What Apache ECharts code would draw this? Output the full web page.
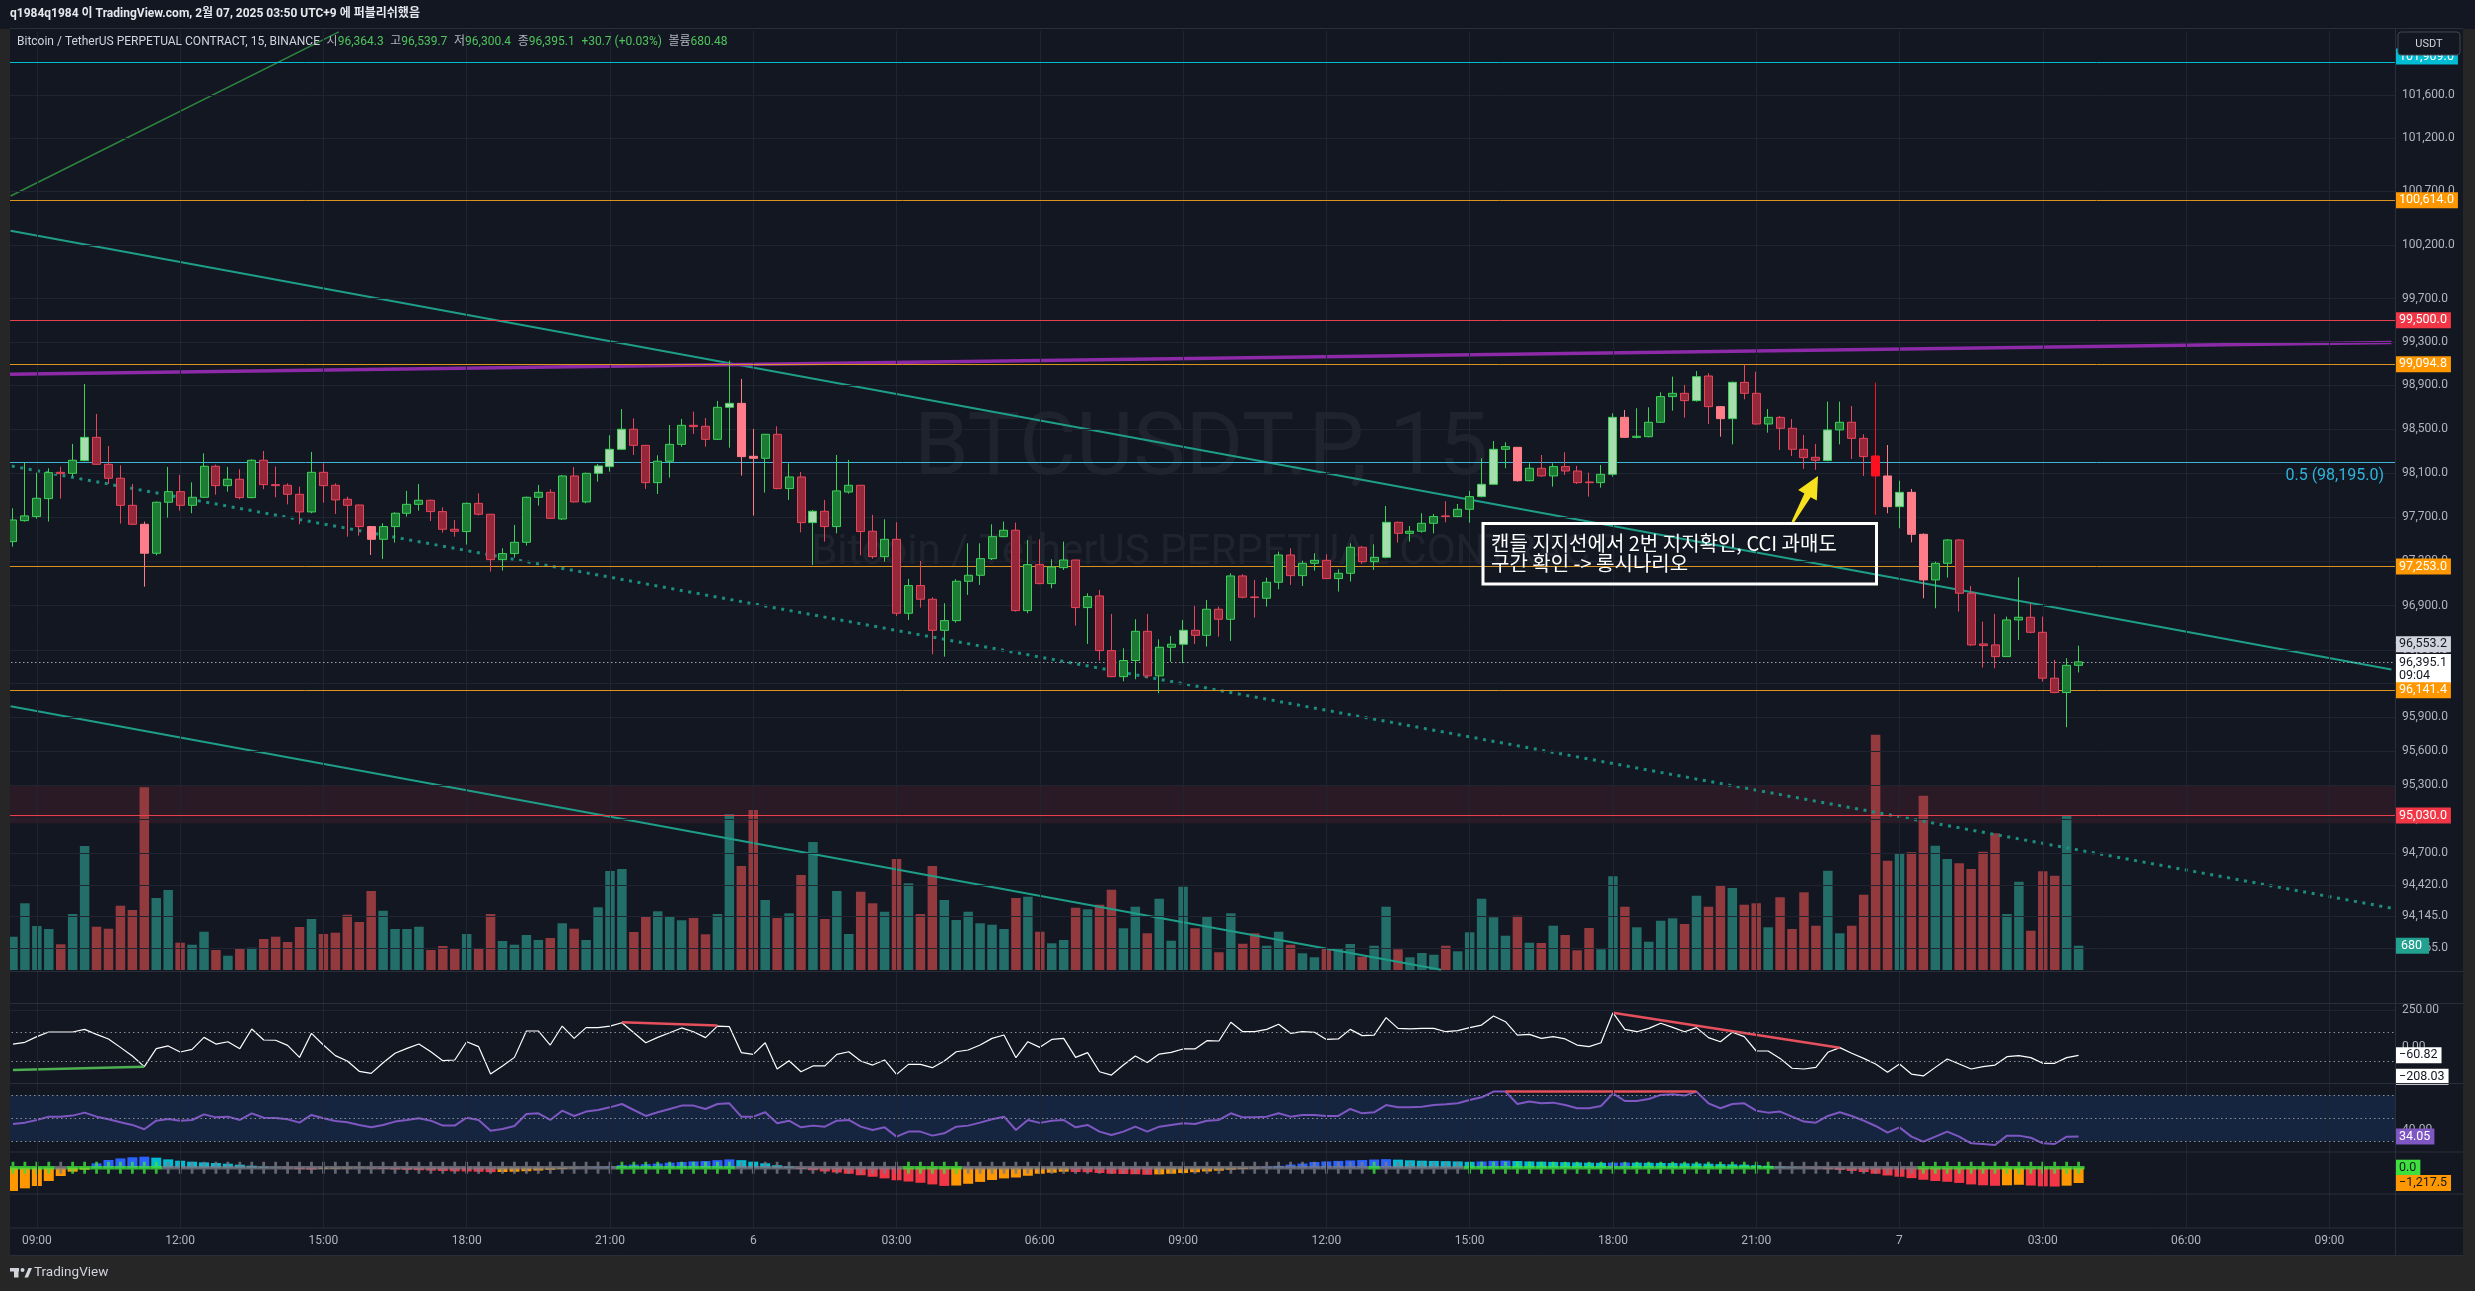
<!DOCTYPE html>
<html>
<head>
<meta charset="utf-8">
<title>BTCUSDT.P 15</title>
<script src="https://cdn.jsdelivr.net/npm/echarts@6.0.0/dist/echarts.min.js"></script>
<style>
html,body{margin:0;padding:0;background:#131722;overflow:hidden;}
#chart{width:2475px;height:1291px;}
</style>
</head>
<body>
<div id="chart"></div>
<script>
// ================= DATA =================
const slotCount = 200;               // 15-min slots on the time axis (incl. empty future space)
const startUTC = Date.UTC(2025, 1, 5, 8, 30); // first slot: 2025-02-05 08:30 (UTC+9 local shown)

// candles: [open, close, low, high]
const ohlc = [
[97477,97673,97432,97779],[97667,97710,97658,98194],[97704,97870,97685,98103],[97867,98103,97658,98143],[98106,98094,97867,98158],
[98097,98216,98067,98365],[98213,98425,98206,98914],[98425,98179,98173,98639],[98179,98052,98000,98346],[98052,97806,97640,98170],
[97806,97634,97628,98000],[97634,97372,97071,97658],[97372,97834,97353,97840],[97834,97930,97694,98155],[97930,97806,97758,98082],
[97806,97879,97734,98015],[97879,98161,97873,98279],[98161,97985,97903,98176],[97985,98043,97930,98155],[98043,97876,97861,98134],
[97876,98216,97870,98225],[98216,97994,97952,98301],[97994,97985,97879,98158],[97988,97906,97815,98006],[97906,97746,97634,97976],
[97746,98106,97734,98292],[98106,97985,97831,98188],[97988,97855,97728,98006],[97861,97806,97522,97885],[97809,97613,97531,97812],
[97613,97498,97356,97619],[97498,97613,97320,97643],[97613,97734,97468,97743],[97734,97815,97704,97937],[97815,97852,97758,98000],
[97852,97749,97664,97858],[97749,97589,97558,97788],[97589,97571,97522,97673],[97568,97824,97450,97831],[97824,97725,97713,97915],
[97725,97314,97206,97728],[97314,97369,97215,97417],[97369,97471,97332,97628],[97471,97879,97441,97885],[97879,97924,97803,97991],
[97924,97688,97682,97952],[97682,98073,97673,98082],[98073,97837,97831,98155],[97837,98097,97824,98103],[98097,98164,98021,98182],
[98158,98316,98112,98444],[98316,98499,98310,98684],[98499,98352,98264,98599],[98352,98012,97955,98355],[98012,98207,97909,98261],
[98207,98361,98058,98538],[98361,98535,98340,98593],[98535,98523,98456,98660],[98526,98407,98340,98602],[98407,98700,98401,98758],
[98700,98736,98331,99128],[98736,98249,98076,98960],[98252,98234,97713,98502],[98234,98453,97921,98456],[98453,97958,97952,98526],
[97958,98064,97855,98188],[98064,97649,97561,98109],[97649,97752,97266,97764],[97752,97613,97477,97855],[97613,97937,97552,98264],
[97927,97988,97912,98219],[97988,97568,97353,97991],[97571,97341,97323,97719],[97341,97498,97296,97679],[97498,96831,96807,97652],
[96831,97080,96771,97140],[97080,96957,96882,97302],[96957,96678,96463,96975],[96678,96765,96442,96921],[96765,97119,96747,97137],
[97119,97173,96996,97462],[97173,97323,97086,97462],[97323,97522,97311,97634],[97522,97580,97516,97658],[97580,96855,96846,97649],
[96855,97269,96831,97492],[97269,97098,97092,97498],[97098,97248,97056,97317],[97242,97311,97221,97477],[97311,96882,96720,97314],
[96882,96981,96556,97011],[96987,96496,96407,97041],[96496,96263,96258,96825],[96263,96407,96222,96517],[96407,96669,96240,96777],
[96669,96270,96249,96825],[96270,96526,96115,96597],[96526,96553,96395,96627],[96553,96678,96383,96771],[96678,96633,96556,96897],
[96633,96867,96532,96951],[96867,96777,96621,96891],[96777,97167,96583,97191],[97167,96975,96966,97182],[96978,96972,96792,97131],
[96966,97110,96891,97152],[97110,97356,97047,97387],[97356,97170,97086,97417],[97170,97281,97077,97305],[97281,97308,97215,97372],
[97308,97143,97140,97363],[97143,97191,97026,97227],[97191,97426,97116,97462],[97426,97296,97275,97438],[97296,97335,97221,97453],
[97335,97652,97326,97800],[97652,97552,97468,97658],[97552,97571,97477,97619],[97571,97643,97558,97734],[97643,97704,97552,97728],
[97710,97704,97652,97843],[97704,97770,97698,97818],[97770,97885,97649,97937],[97885,97997,97879,98234],[97997,98316,97991,98392],
[98316,98340,98143,98380],[98334,98030,98021,98337],[98030,98143,98024,98188],[98143,98073,98067,98264],[98073,98158,97976,98188],
[98158,98118,98082,98289],[98118,98012,98000,98164],[98018,98012,97885,98103],[98012,98088,97967,98173],[98088,98608,98067,98645],
[98608,98425,98419,98675],[98425,98435,98416,98691],[98431,98563,98425,98700],[98563,98798,98557,98837],[98798,98828,98669,98981],
[98828,98761,98605,98905],[98761,98981,98752,99033],[98987,98706,98547,99012],[98706,98596,98431,98712],[98596,98929,98361,98935],
[98929,98828,98773,99095],[98828,98547,98541,99027],[98547,98608,98468,98684],[98608,98508,98310,98621],[98508,98316,98255,98593],
[98316,98240,98137,98447],[98243,98216,98128,98365],[98213,98493,98207,98752],[98493,98563,98361,98752],[98563,98416,98228,98712],
[98416,98249,98073,98453],[98255,98073,97719,98926],[98073,97794,97734,98355],[97794,97924,97598,98030],[97924,97543,97471,97955],
[97543,97131,96966,97552],[97131,97281,96876,97296],[97281,97492,97152,97501],[97492,97011,96846,97501],[97011,96547,96538,97077],
[96556,96541,96344,96756],[96547,96442,96338,96825],[96442,96771,96440,96801],[96771,96795,96592,97155],[96795,96660,96651,96921],
[96660,96249,96219,96801],[96249,96121,96115,96413],[96121,96364,95812,96428],[96364.3,96395.1,96300.4,96539.7]
];

const volume = [
932,1868,1232,1148,720,1568,3472,1212,1156,1800,
1680,5116,2016,2240,764,708,1072,560,400,596,
624,868,932,784,1204,1428,1008,1044,1548,1344,
2212,1660,1148,1148,1212,560,672,616,1008,596,
1568,812,708,980,840,896,1308,1156,840,1756,
2772,2828,1064,1492,1644,1512,1392,1456,1000,1568,
4360,2912,4480,1960,1456,1588,2660,3584,1428,2212,
1008,2192,1868,1632,3108,2428,1568,2912,1960,1400,
1632,1308,1268,1148,2016,2052,1072,748,840,1744,
1700,1828,2248,1168,1772,1028,1996,820,2332,1168,
1504,496,1588,736,1028,680,1072,708,468,356,
616,616,728,372,680,1772,580,356,476,428,
680,524,1056,1996,1476,960,1520,764,756,1240,
980,552,1176,580,2624,1772,1196,792,1380,1448,
1288,2080,1772,2360,2296,1828,1868,1196,2036,1148,
2176,1240,2780,1028,1240,2108,6588,3060,3268,3296,
4880,3480,3108,2988,2828,3312,3828,1568,2472,1100,
2764,2640,4340,680.48
];

const cci = [
17,29,68,100,100,100,118,84,52,-6,
-66,-139,-15,4,-38,-20,63,17,33,-15,
121,45,43,8,-75,91,10,-63,-100,-171,
-185,-112,-47,-13,17,-36,-98,-93,33,-1,
-190,-134,-75,107,107,10,141,56,130,130,
141,164,95,26,63,95,128,102,61,141,
137,-42,-54,26,-155,-98,-174,-134,-134,-54,
-36,-100,-128,-93,-192,-123,-123,-146,-100,-36,
-24,10,56,79,-77,33,-6,49,56,-75,
-42,-174,-197,-128,-65,-111,-52,-40,-17,-17,
40,38,167,102,102,118,153,91,102,98,
49,52,118,75,79,199,125,121,125,125,
102,109,130,148,210,171,79,84,56,68,
52,10,-1,26,233,118,102,125,160,132,
102,130,61,33,98,68,-31,-31,-82,-150,
-155,-144,-40,-8,-47,-82,-121,-178,-121,-190,
-203,-144,-86,-121,-155,-139,-128,-70,-63,-77,
-116,-116,-77,-60.82
];
const cciSecondValue = -208.03;

const rsi = [
45.0,46.2,48.5,51.4,51.4,52.3,54.9,51.4,49.1,46.5,
44.2,40.4,47.9,49.4,47.9,48.5,53.4,50.8,51.4,48.5,
54.3,50.5,50.3,49.1,46.2,52.9,50.0,47.6,46.5,44.2,
42.1,44.2,47.1,48.5,50.0,47.9,43.6,43.6,50.5,48.5,
39.2,40.7,43.3,53.7,54.3,48.5,56.6,52.0,55.8,57.2,
59.5,62.4,57.2,52.0,55.2,58.1,61.0,61.0,58.1,62.4,
63.0,51.4,51.4,55.2,45.6,47.9,42.1,43.6,42.7,47.9,
48.5,42.7,39.8,42.1,34.0,38.4,38.4,34.9,36.9,42.7,
43.6,46.2,49.1,51.4,39.8,48.5,46.0,47.9,48.5,42.1,
44.2,38.4,35.5,38.4,42.7,38.4,42.7,44.2,45.6,45.0,
47.9,48.5,54.3,50.8,50.8,51.4,54.3,51.4,52.9,52.9,
52.0,52.0,58.1,54.3,55.2,61.5,59.5,59.5,60.1,61.5,
62.1,63.0,65.9,68.2,73.2,73.2,62.4,64.5,63.0,63.6,
61.5,58.7,58.7,60.7,71.7,65.0,65.0,66.8,70.3,70.8,
69.7,73.2,63.0,58.7,62.4,63.0,56.6,54.9,55.8,51.4,
47.1,46.2,52.0,55.2,52.0,47.9,43.3,37.5,42.1,34.0,
29.7,34.0,38.4,34.0,28.2,27.6,26.8,34.9,34.9,33.1,
28.2,27.6,34.0,34.05
];

const sqzMom = [
-1855,-1642,-1458,-1060,-660,-318,-160,345,613,742,
828,875,800,663,557,477,424,371,318,239,
159,80,30,-50,-120,-150,-100,-80,-60,-30,
-60,-100,-140,-170,-200,-230,-260,-290,-300,-320,
-350,-340,-320,-280,-230,-170,-110,-50,10,50,
100,200,250,280,330,400,450,500,530,600,
660,600,480,350,200,100,-100,-200,-300,-380,
-480,-600,-720,-850,-1000,-1100,-1200,-1330,-1450,-1420,
-1280,-1130,-980,-850,-780,-640,-480,-400,-320,-340,
-360,-420,-480,-500,-520,-560,-530,-480,-420,-360,
-300,-240,-160,-110,-60,60,150,250,330,450,
500,540,580,610,650,680,640,590,560,540,
520,500,470,500,540,560,530,500,480,460,
440,420,400,390,400,410,400,390,380,370,
350,340,320,290,270,240,200,150,100,40,
-20,-60,-120,-180,-260,-340,-480,-620,-720,-830,
-960,-1060,-1120,-1210,-1330,-1400,-1440,-1400,-1360,-1420,
-1480,-1500,-1430,-1217.5
];
const sqzOn = [
1,1,1,1,0,1,1,1,1,1, 1,1,1,0,0,0,0,0,0,0, 0,0,0,0,0,0,0,0,0,0, 0,0,0,0,0,0,0,0,0,0,
0,0,0,0,0,0,0,0,0,0, 0,1,1,1,1,1,1,1,1,1, 1,0,0,0,0,0,0,0,0,0, 0,0,0,0,0,1,1,1,1,1,
0,0,0,0,0,0,0,0,0,0, 0,0,0,0,0,0,0,0,0,0, 0,0,0,0,0,0,0,0,0,0, 0,0,0,0,1,0,0,0,0,0,
0,0,1,1,1,1,1,1,1,1, 1,1,1,1,1,1,1,1,1,1, 1,1,1,1,1,1,1,1,0,0, 0,0,0,0,0,0,0,0,0,0,
1,1,1,1,1,1,1,1,1,1, 1,1,1,1
];

// price-scale tick labels and drawn levels
const priceTicks = [101600,101200,100700,100200,99700,99300,98900,98500,98100,97700,97300,96900,96500,96200,95900,95600,95300,95000,94700,94420,94145,93865];
const cyanLevels = [101909.0];
const orangeLevels = [100614.0, 99094.8, 97253.0, 96141.4];
const redLevels = [99500.0, 95030.0];
const fibLevel = 98195.0;
const fibName = '0.5';
const redZone = [95300, 94962];
const markerPrice = 96553.2;
const countdown = '09:04';
const lastChange = ['+30.7', '+0.03%'];

// drawn trend lines: [slot index, price]
const trendGreen  = [[-0.2, 100655], [27.3, 102199]];
const trendUpper  = [[-0.2, 100330], [199.2, 96327]];
const trendLower  = [[-0.2, 95998], [119.6, 93680]];
const trendDotted = [[-0.1, 98163], [199.2, 94217]];
const trendPurple = [[-0.3, 99003], [199.2, 99296]];
// indicator divergence lines: [slot index, value]
const cciDivGreen = [[0, -162], [11, -139]];
const cciDivRed1  = [[51, 167], [59, 144]];
const cciDivRed2  = [[134, 233], [153, -8]];
const rsiDivRed   = [[124.9, 73.2], [141, 73.2]];

// ================= BUILD =================
const pad2 = n => String(n).padStart(2, '0');
const categories = [];
for (let k = 0; k < slotCount; k++) {
  const d = new Date(startUTC + k * 900000);
  categories.push(pad2(d.getUTCMonth() + 1) + '-' + pad2(d.getUTCDate()) + ' ' + pad2(d.getUTCHours()) + ':' + pad2(d.getUTCMinutes()));
}
function fmt(v, dec) {
  const s = Math.abs(v).toLocaleString('en-US', {minimumFractionDigits: dec, maximumFractionDigits: dec});
  return (v < 0 ? '\u2212' : '') + s;
}
const isMajor = c => { const h = +c.slice(6, 8), m = +c.slice(9, 11); return m === 0 && h % 3 === 0; };
const majorIdx = categories.map((c, i) => isMajor(c) ? i : -1).filter(i => i >= 0);

const AX = 'Roboto, "Liberation Sans", Arial, sans-serif';
const KR = 'Roboto, "Noto Sans CJK KR", sans-serif';
const GRID_C = '#1f2430';
const last = ohlc[ohlc.length - 1];
const lastPrice = last[1];

const C = {
  upFill: '#1d7a35', upBorder: '#3fd05a', upPale: '#a6dcae',
  dnFill: '#93283a', dnBorder: '#e8455a', dnPale: '#ff7d88', dnHot: '#ff1020'
};
// style per candle: direction from open/close, intensity from volume vs. recent average
const candleData = ohlc.map((d, i) => {
  let s = 0, c = 0;
  for (let j = Math.max(0, i - 20); j < i; j++) { s += volume[j]; c++; }
  const ratio = c >= 3 ? volume[i] / (s / c) : 1;
  let fill, border;
  if (d[1] >= d[0]) { fill = ratio > 1.5 ? C.upPale : C.upFill; border = C.upBorder; }
  else if (ratio > 3.6) { fill = C.dnHot; border = C.dnHot; }
  else if (ratio > 1.5) { fill = C.dnPale; border = C.dnPale; }
  else { fill = C.dnFill; border = C.dnBorder; }
  return {value: d, itemStyle: {color: fill, color0: fill, borderColor: border, borderColor0: border}};
});
const volData = volume.map((v, i) => ({value: v, itemStyle: {color: ohlc[i][1] >= ohlc[i][0] ? '#236e69' : '#933a3f'}}));
const sqzData = sqzMom.map((v, i) => {
  const p = i > 0 ? sqzMom[i - 1] : -Infinity;
  let col;
  if (v >= 0) col = v >= p ? '#2962ff' : '#00bcd4';
  else col = v <= p ? '#f23645' : '#ff9800';
  return {value: v, itemStyle: {color: col}};
});
const crossData = sqzOn.map((s, i) => ({value: [i, 0], itemStyle: {color: s ? '#3ee03e' : '#787b86'}}));
const nulls = categories.map(() => null);

const tickLabel = (txt) => ({show: true, position: 'end', distance: 7, formatter: txt, color: '#b2b5be', fontSize: 12, fontFamily: AX});
const boxLabel = (txt, bg, fg, extra) => Object.assign({show: true, position: 'end', distance: 0, formatter: txt,
  backgroundColor: bg, color: fg, padding: [2, 4, 2, 4], fontSize: 12.5, lineHeight: 12, fontFamily: AX}, extra || {});
const hidden = {color: 'rgba(0,0,0,0)', width: 1, type: 'solid'};
const ML = (data) => ({symbol: ['none', 'none'], silent: true, animation: false, label: {show: false}, data: data});

const catAxis = (g, extra) => Object.assign({type: 'category', gridIndex: g, data: categories, boundaryGap: true,
  axisLine: {show: false}, axisTick: {show: false}, axisLabel: {show: false}, splitLine: {show: false}}, extra || {});
const valAxis = (g, min, max, extra) => Object.assign({type: 'value', gridIndex: g, min: min, max: max, show: false,
  axisLine: {show: false}, axisTick: {show: false}, axisLabel: {show: false}, splitLine: {show: false}}, extra || {});

const LEFT = 7, RIGHT = 80;
const option = {
  backgroundColor: '#131722',
  animation: false,
  textStyle: {fontFamily: AX},
  grid: [
    {left: LEFT, right: RIGHT, top: 31, height: 941},
    {left: LEFT, right: RIGHT, top: 700, height: 270},
    {left: LEFT, right: RIGHT, top: 1004, height: 80},
    {left: LEFT, right: RIGHT, top: 1084, height: 68.3},
    {left: LEFT, right: RIGHT, top: 1152.3, height: 41.7},
    {left: LEFT, right: RIGHT, top: 31, height: 1197}
  ],
  xAxis: [
    catAxis(0), catAxis(1), catAxis(2), catAxis(3), catAxis(4),
    catAxis(5, {position: 'bottom', axisLabel: {show: true, color: '#b2b5be', fontSize: 12, fontFamily: AX, margin: 7,
      interval: (idx, val) => isMajor(val),
      formatter: val => val.slice(6, 8) === '00' && val.slice(9, 11) === '00' ? String(+val.slice(3, 5)) : val.slice(6)}}),
    {type: 'value', gridIndex: 0, min: -0.5, max: slotCount - 0.5, show: false, splitLine: {show: false}}
  ],
  yAxis: [
    {type: 'log', gridIndex: 0, min: 93660, max: 102208, show: false, splitLine: {show: false}, axisLabel: {show: false}},
    valAxis(1, 0, 7560),
    valAxis(2, -258.6, 293.1),
    valAxis(3, 20.4, 79.8),
    valAxis(4, -2093, 1226),
    valAxis(5, 0, 1)
  ],
  series: [
    // vertical grid lines (every 3 hours)
    {type: 'line', xAxisIndex: 5, yAxisIndex: 5, data: nulls, z: 0, silent: true, showSymbol: false,
      markLine: ML(majorIdx.map(i => ({xAxis: i, lineStyle: {color: GRID_C, width: 1, type: 'solid'}})))},
    // price grid lines + tick labels
    {type: 'line', xAxisIndex: 0, yAxisIndex: 0, data: nulls, z: 0, silent: true, showSymbol: false,
      markLine: ML(priceTicks.map(v => ({yAxis: v, lineStyle: {color: GRID_C, width: 1, type: 'solid'}, label: tickLabel(fmt(v, 1))})))},
    // red zone
    {type: 'line', xAxisIndex: 0, yAxisIndex: 0, data: nulls, z: 1, silent: true, showSymbol: false,
      markArea: {silent: true, itemStyle: {color: 'rgba(242,54,69,0.10)'}, data: [[{yAxis: redZone[0]}, {yAxis: redZone[1]}]]}},
    // volume
    {type: 'bar', xAxisIndex: 1, yAxisIndex: 1, data: volData, barWidth: 9.5, z: 1, silent: true,
      markLine: ML([{yAxis: volume[volume.length - 1], lineStyle: hidden,
        label: boxLabel(String(Math.round(volume[volume.length - 1])), '#22a190', '#ffffff', {padding: [2, 7, 2, 6]})}])},
    // horizontal levels
    {type: 'line', xAxisIndex: 0, yAxisIndex: 0, data: nulls, z: 2, silent: true, showSymbol: false,
      markLine: ML([
        ...cyanLevels.map(v => ({yAxis: v, lineStyle: {color: '#00bcd4', width: 1, type: 'solid'}})),
        ...orangeLevels.map(v => ({yAxis: v, lineStyle: {color: '#dc921f', width: 1, type: 'solid'}})),
        ...redLevels.map(v => ({yAxis: v, lineStyle: {color: '#e8404f', width: 1, type: 'solid'}})),
        {yAxis: fibLevel, lineStyle: {color: '#3fb6d6', width: 1, type: 'solid'},
          label: {show: true, position: 'insideEndBottom', distance: [11, 5], formatter: fibName + ' (' + fmt(fibLevel, 1) + ')', color: '#2db4dc', fontSize: 16, fontFamily: AX}},
        {yAxis: lastPrice, lineStyle: {color: 'rgba(220,224,232,0.7)', width: 1, type: [1.5, 2.5]}}
      ])},
    // trend lines
    {type: 'line', xAxisIndex: 6, yAxisIndex: 0, data: trendGreen, z: 3, silent: true, showSymbol: false, lineStyle: {color: '#2e8540', width: 1.5}},
    {type: 'line', xAxisIndex: 6, yAxisIndex: 0, data: trendUpper, z: 3, silent: true, showSymbol: false, lineStyle: {color: '#1e9e88', width: 2}},
    {type: 'line', xAxisIndex: 6, yAxisIndex: 0, data: trendLower, z: 3, silent: true, showSymbol: false, lineStyle: {color: '#1e9e88', width: 2}},
    {type: 'line', xAxisIndex: 6, yAxisIndex: 0, data: trendDotted, z: 3, silent: true, showSymbol: false, lineStyle: {color: '#1a8f80', width: 3, type: [3, 5.6]}},
    {type: 'line', xAxisIndex: 6, yAxisIndex: 0, data: trendPurple, z: 3, silent: true, showSymbol: false, lineStyle: {color: '#8c2aa8', width: 3.5}},
    // candles
    {type: 'candlestick', xAxisIndex: 0, yAxisIndex: 0, data: candleData, barWidth: 8.5, z: 5, silent: true,
      itemStyle: {color: C.upFill, color0: C.dnFill, borderColor: C.upBorder, borderColor0: C.dnBorder, borderWidth: 1}},
    // price-scale boxes
    {type: 'line', xAxisIndex: 0, yAxisIndex: 0, data: nulls, z: 8, silent: true, showSymbol: false,
      markLine: ML([
        ...cyanLevels.map(v => ({yAxis: v, lineStyle: hidden, label: boxLabel(fmt(v, 1), '#00bcd4', '#ffffff', {offset: [0, -6]})})),
        ...redLevels.map(v => ({yAxis: v, lineStyle: hidden, label: boxLabel(fmt(v, 1), '#f23645', '#ffffff')})),
        {yAxis: markerPrice, lineStyle: hidden, label: boxLabel(fmt(markerPrice, 1), '#d1d4dc', '#131722')},
        {yAxis: lastPrice, lineStyle: hidden, label: boxLabel(fmt(lastPrice, 1) + '\n' + countdown, '#ffffff', '#131722', {lineHeight: 13, offset: [0, 7]})},
        ...orangeLevels.map(v => ({yAxis: v, lineStyle: hidden, label: boxLabel(fmt(v, 1), '#ff9800', '#ffffff')}))
      ])},
    // CCI
    {type: 'line', xAxisIndex: 2, yAxisIndex: 2, data: cci, z: 3, silent: true, showSymbol: false, lineStyle: {color: '#ffffff', width: 1.2},
      markLine: ML([
        {yAxis: 250, lineStyle: {color: GRID_C, width: 1, type: 'solid'}, label: tickLabel('250.00')},
        {yAxis: 0, lineStyle: hidden, label: tickLabel('0.00')},
        {yAxis: 100, lineStyle: {color: '#8a8d96', width: 1, type: [1.5, 3]}},
        {yAxis: -100, lineStyle: {color: '#8a8d96', width: 1, type: [1.5, 3]}},
        {yAxis: cci[cci.length - 1], lineStyle: hidden, label: boxLabel(fmt(cci[cci.length - 1], 2), '#ffffff', '#131722')},
        {yAxis: cciSecondValue, lineStyle: hidden, label: boxLabel(fmt(cciSecondValue, 2), '#ffffff', '#131722')}
      ])},
    {type: 'line', xAxisIndex: 2, yAxisIndex: 2, data: cciDivGreen, z: 4, silent: true, showSymbol: false, lineStyle: {color: '#4caf50', width: 2.5}},
    {type: 'line', xAxisIndex: 2, yAxisIndex: 2, data: cciDivRed1, z: 4, silent: true, showSymbol: false, lineStyle: {color: '#e5505c', width: 2.5}},
    {type: 'line', xAxisIndex: 2, yAxisIndex: 2, data: cciDivRed2, z: 4, silent: true, showSymbol: false, lineStyle: {color: '#e5505c', width: 2.5}},
    // RSI
    {type: 'line', xAxisIndex: 3, yAxisIndex: 3, data: rsi, z: 3, silent: true, showSymbol: false, lineStyle: {color: '#7e57c2', width: 2},
      markArea: {silent: true, itemStyle: {color: 'rgba(30,90,170,0.22)'}, data: [[{yAxis: 70}, {yAxis: 30}]]},
      markLine: ML([
        {yAxis: 70, lineStyle: {color: '#8a8d96', width: 1, type: [1.5, 3]}},
        {yAxis: 50, lineStyle: {color: '#8a8d96', width: 1, type: [1.5, 3]}},
        {yAxis: 30, lineStyle: {color: '#8a8d96', width: 1, type: [1.5, 3]}},
        {yAxis: 40, lineStyle: hidden, label: tickLabel('40.00')},
        {yAxis: rsi[rsi.length - 1], lineStyle: hidden, label: boxLabel(fmt(rsi[rsi.length - 1], 2), '#7e57c2', '#ffffff')}
      ])},
    {type: 'line', xAxisIndex: 3, yAxisIndex: 3, data: rsiDivRed, z: 4, silent: true, showSymbol: false, lineStyle: {color: '#e5505c', width: 2.5}},
    // Squeeze momentum
    {type: 'bar', xAxisIndex: 4, yAxisIndex: 4, data: sqzData, barWidth: 10, z: 3, silent: true,
      markLine: ML([
        {yAxis: 0, lineStyle: hidden, label: boxLabel('0.0', '#3ee03e', '#131722')},
        {yAxis: sqzMom[sqzMom.length - 1], lineStyle: hidden, label: boxLabel(fmt(sqzMom[sqzMom.length - 1], 1), '#ff9800', '#131722')}
      ])},
    {type: 'scatter', xAxisIndex: 4, yAxisIndex: 4, data: crossData, z: 4, silent: true,
      symbol: 'path://M0,4.2H4.6V0H7.4V4.2H12V7.8H7.4V12H4.6V7.8H0Z', symbolSize: [12, 12]}
  ],
  graphic: [
    // watermark
    {type: 'text', x: 1201, y: 452, z: 0, silent: true, style: {text: 'BTCUSDT.P, 15', fill: 'rgba(255,255,255,0.055)', fontSize: 88, fontFamily: AX,
      align: 'center', verticalAlign: 'middle', textAlign: 'center', textVerticalAlign: 'middle'}},
    {type: 'text', x: 1213, y: 553, z: 0, silent: true, style: {text: 'Bitcoin / TetherUS PERPETUAL CONTRACT', fill: 'rgba(255,255,255,0.055)', fontSize: 42, fontFamily: AX,
      align: 'center', verticalAlign: 'middle', textAlign: 'center', textVerticalAlign: 'middle'}},
    // frame strips
    {type: 'rect', z: 100, silent: true, shape: {x: 0, y: 29, width: 10, height: 1262}, style: {fill: '#262626'}},
    {type: 'rect', z: 100, silent: true, shape: {x: 2463, y: 29, width: 12, height: 1262}, style: {fill: '#262626'}},
    {type: 'rect', z: 100, silent: true, shape: {x: 0, y: 1256, width: 2475, height: 35}, style: {fill: '#262626'}},
    // separators
    ...[28.5, 971.5, 1003.5, 1083.5, 1152, 1194, 1228, 1255.5].map(y => ({type: 'line', z: 90, silent: true,
      shape: {x1: 10, y1: y, x2: 2463, y2: y}, style: {stroke: '#2a2e39', lineWidth: 1}})),
    {type: 'line', z: 90, silent: true, shape: {x1: 2395.5, y1: 29, x2: 2395.5, y2: 1256}, style: {stroke: '#2a2e39', lineWidth: 1}},
    // header
    {type: 'text', x: 10, y: 14, z: 100, silent: true, style: {text: 'q1984q1984 이 TradingView.com, 2월 07, 2025 03:50 UTC+9 에 퍼블리쉬했음',
      fill: '#e6e8ee', fontSize: 12, fontWeight: 'bold', fontFamily: KR, verticalAlign: 'middle', textVerticalAlign: 'middle'}},
    // legend
    {type: 'text', x: 17, y: 41.5, z: 100, silent: true, style: {
      text: '{n|Bitcoin / TetherUS PERPETUAL CONTRACT, 15, BINANCE}  {g|시}{v|' + fmt(last[0], 1) + '}  {g|고}{v|' + fmt(last[3], 1) +
        '}  {g|저}{v|' + fmt(last[2], 1) + '}  {g|종}{v|' + fmt(last[1], 1) + '}  {v|' + lastChange[0] + ' (' + lastChange[1] + ')}  {g|볼륨}{v|' + volume[volume.length - 1] + '}',
      verticalAlign: 'middle', textVerticalAlign: 'middle',
      rich: {n: {fill: '#d1d4dc', fontSize: 12, fontFamily: AX}, g: {fill: '#b2b5be', fontSize: 12, fontFamily: KR}, v: {fill: '#4fc45c', fontSize: 12, fontFamily: AX}}}},
    // price scale header box
    {type: 'rect', z: 100, silent: true, shape: {x: 2398, y: 32, width: 62, height: 23, r: 3}, style: {fill: '#131722', stroke: '#434651', lineWidth: 1}},
    {type: 'text', x: 2429, y: 44, z: 101, silent: true, style: {text: 'USDT', fill: '#d1d4dc', fontSize: 11, fontFamily: AX,
      align: 'center', verticalAlign: 'middle', textAlign: 'center', textVerticalAlign: 'middle'}},
    // annotation
    {type: 'rect', z: 60, silent: true, shape: {x: 1483, y: 523.5, width: 393.5, height: 60.5}, style: {fill: 'rgba(0,0,0,0)', stroke: '#ffffff', lineWidth: 3}},
    {type: 'text', x: 1491, y: 533, z: 60, silent: true, style: {text: '캔들 지지선에서 2번 지지확인, CCI 과매도\n구간 확인 -> 롱시나리오',
      fill: '#ffffff', fontSize: 20, lineHeight: 20, fontFamily: '"Noto Sans CJK KR", sans-serif', verticalAlign: 'top', textVerticalAlign: 'top'}},
    {type: 'polygon', z: 60, silent: true, shape: {points: [[1818, 476], [1816.8, 500.5], [1810.6, 497.2], [1794, 522.6], [1791.6, 521.4], [1804.4, 493.4], [1798.2, 490.1]]},
      style: {fill: '#f7e01e'}},
    // footer logo
    {type: 'rect', z: 101, silent: true, shape: {x: 10, y: 1268, width: 9, height: 3.5}, style: {fill: '#d1d4dc'}},
    {type: 'rect', z: 101, silent: true, shape: {x: 14, y: 1268, width: 4.5, height: 9.5}, style: {fill: '#d1d4dc'}},
    {type: 'circle', z: 101, silent: true, shape: {cx: 22.5, cy: 1270, r: 2}, style: {fill: '#d1d4dc'}},
    {type: 'polygon', z: 101, silent: true, shape: {points: [[24.5, 1277.5], [28.5, 1268], [32, 1268], [28, 1277.5]]}, style: {fill: '#d1d4dc'}},
    {type: 'text', x: 34, y: 1273, z: 101, silent: true, style: {text: 'TradingView', fill: '#d1d4dc', fontSize: 13.5, fontFamily: AX,
      verticalAlign: 'middle', textVerticalAlign: 'middle'}}
  ]
};

const chart = echarts.init(document.getElementById('chart'), null, {renderer: 'canvas', width: 2475, height: 1291});
chart.setOption(option);
</script>
</body>
</html>
